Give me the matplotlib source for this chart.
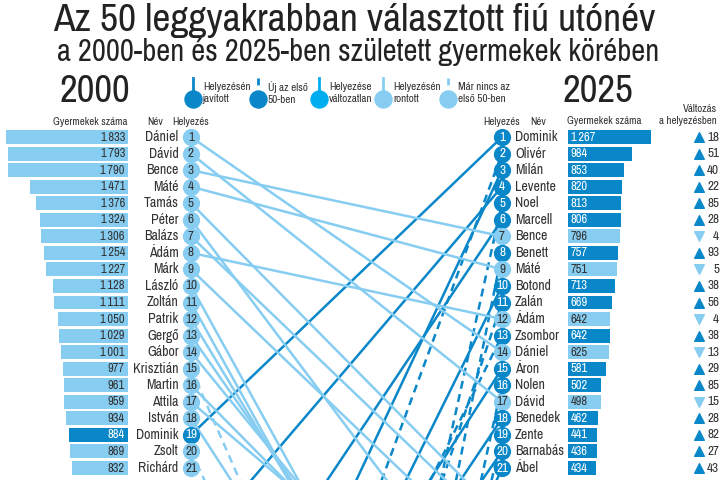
"""
Az 50 leggyakrabban választott fiú utónév, 2000 vs 2025 (slope chart, top 21 rows).
"""
import matplotlib

matplotlib.use("Agg")
import matplotlib.pyplot as plt
from matplotlib import font_manager

# --- data -------------------------------------------------------------------
names_2000 = ["Dániel", "Dávid", "Bence", "Máté", "Tamás", "Péter", "Balázs",
              "Ádám", "Márk", "László", "Zoltán", "Patrik", "Gergő", "Gábor",
              "Krisztián", "Martin", "Attila", "István", "Dominik", "Zsolt",
              "Richárd"]
counts_2000 = [1833, 1793, 1790, 1471, 1376, 1324, 1306, 1254, 1227, 1128,
               1111, 1050, 1029, 1001, 977, 961, 959, 934, 884, 869, 832]
# rank of the 2000 names in 2025 (>50 = no longer in the top 50)
rank25_of_2000 = [14, 17, 7, 9, 24, 31, 25, 12, 27, 44, 45, 43, 40, 37,
                  58, 35, 33, 47, 1, 60, 62]

names_2025 = ["Dominik", "Olivér", "Milán", "Levente", "Noel", "Marcell",
              "Bence", "Benett", "Máté", "Botond", "Zalán", "Ádám", "Zsombor",
              "Dániel", "Áron", "Nolen", "Dávid", "Benedek", "Zente",
              "Barnabás", "Ábel"]
counts_2025 = [1267, 984, 853, 820, 813, 806, 796, 757, 751, 713, 669, 642,
               642, 625, 581, 502, 498, 462, 441, 436, 434]
change_2025 = [18, 51, 40, 22, 85, 28, -4, 93, -5, 38, 56, -4, 38, -13, 29,
               85, -15, 28, 82, 27, 43]

legend_labels = ["Helyezésén\njavított", "Új az első\n50-ben",
                 "Helyezése\nváltozatlan", "Helyezésén\nrontott",
                 "Már nincs az\nelső 50-ben"]

DARK = "#0a87c9"
CYAN = "#00aeef"
LIGHT = "#86cdf1"
TXT = "#333333"

# --- fonts: a regular-weight condensed face if one is installed --------------
wd = font_manager.weight_dict


def wnum(w):
    return w if isinstance(w, int) else wd.get(w, 400)


cands = [f for f in font_manager.fontManager.ttflist
         if f.style == "normal" and ("Condensed" in f.name or "Narrow" in f.name
                                     or f.stretch in ("condensed", "semi-condensed", 75, 87))]
cands.sort(key=lambda f: (abs(wnum(f.weight) - 400), f.name))
if cands:
    best = cands[0]
    plt.rcParams["font.family"] = [best.name, "Liberation Sans", "DejaVu Sans"]
    plt.rcParams["font.weight"] = wnum(best.weight)
    plt.rcParams["font.stretch"] = best.stretch
else:
    plt.rcParams["font.family"] = ["Liberation Sans", "DejaVu Sans"]

W, H = 720, 480
fig = plt.figure(figsize=(W / 100, H / 100), dpi=100)


def box(x0, x1, y0, y1):
    # pixel box (origin top-left) -> figure fraction rect
    return [x0 / W, 1 - y1 / H, (x1 - x0) / W, (y1 - y0) / H]


def ftext(x, y, s, **kw):
    fig.text(x / W, 1 - y / H, s, **kw)


def fmt(v):
    return f"{v:,}".replace(",", "\u2009")


TOP, BOT, ROW1, ROW = 128, 480, 137, 16.55
ylim = (1 + (BOT - ROW1) / ROW, 1 - (ROW1 - TOP) / ROW)
XL, XR = 191, 502  # pixel x of the two rank columns

r2000 = list(range(1, len(names_2000) + 1))
r2025 = list(range(1, len(names_2025) + 1))
prev_2025 = [r + c for r, c in zip(r2025, change_2025)]

# --- titles -------------------------------------------------------------------
ftext(354, 21, "Az 50 leggyakrabban választott fiú utónév", ha="center",
      va="center", fontsize=28.5, color="#222222")
ftext(358, 52, "a 2000-ben és 2025-ben született gyermekek körében",
      ha="center", va="center", fontsize=22, color="#222222")
ftext(95, 92, "2000", ha="center", va="center", fontsize=28,
      fontweight="bold", color="#222222")
ftext(598, 92, "2025", ha="center", va="center", fontsize=28,
      fontweight="bold", color="#222222")

# --- legend -------------------------------------------------------------------
axg = fig.add_axes(box(180, 520, 74, 112))
axg.set_xlim(180, 520)
axg.set_ylim(112, 74)
axg.axis("off")
leg_x = [193, 258, 319, 383, 448]
leg_col = [DARK, DARK, CYAN, LIGHT, LIGHT]
leg_dash = [False, True, False, False, True]
for lx, col, dsh, lab in zip(leg_x, leg_col, leg_dash, legend_labels):
    if dsh:
        axg.plot([lx, lx], [78, 93], color=col, lw=2, dashes=(2.5, 2))
    else:
        axg.plot([lx, lx], [78, 93], color=col, lw=2)
    axg.scatter([lx], [99], s=150, color=col, zorder=3)
    axg.text(lx + 10, 93, lab, ha="left", va="center", fontsize=8,
             color=TXT, linespacing=1.25)

# --- middle: slope lines ------------------------------------------------------
ax = fig.add_axes(box(140, 560, TOP, BOT))
ax.set_xlim((140 - XL) / (XR - XL), (560 - XL) / (XR - XL))
ax.set_ylim(ylim)
ax.axis("off")

LW = 1.8
dash = (3.2, 2.2)
for r, p, c in zip(r2025, prev_2025, change_2025):
    col = DARK if c > 0 else (CYAN if c == 0 else LIGHT)
    if p > 50:
        ax.plot([0, 1], [p, r], color=col, lw=LW, dashes=dash)
    else:
        ax.plot([0, 1], [p, r], color=col, lw=LW)
for r, q in zip(r2000, rank25_of_2000):
    if q <= len(names_2025):
        continue  # already drawn from the 2025 side
    if q > 50:
        ax.plot([0, 1], [r, q], color=LIGHT, lw=LW, dashes=dash)
    else:
        ax.plot([0, 1], [r, q], color=LIGHT if q > r else DARK, lw=LW)

# circles + ranks + names
for r, q, name in zip(r2000, rank25_of_2000, names_2000):
    col = DARK if q < r else LIGHT
    ax.scatter([0], [r], s=130, color=col, zorder=4, clip_on=False)
    ax.text(0, r, str(r), ha="center", va="center", fontsize=9.5, zorder=5,
            color="white" if col == DARK else TXT)
    ax.text(-0.04, r, name, ha="right", va="center", fontsize=10, color=TXT)
for r, c, name in zip(r2025, change_2025, names_2025):
    col = DARK if c > 0 else LIGHT
    ax.scatter([1], [r], s=130, color=col, zorder=4, clip_on=False)
    ax.text(1, r, str(r), ha="center", va="center", fontsize=9.5, zorder=5,
            color="white" if col == DARK else TXT)
    ax.text(1.042, r, name, ha="left", va="center", fontsize=10, color=TXT)

# --- left bars ------------------------------------------------------------------
axl = fig.add_axes(box(0, 128, TOP, BOT))
col_l = [DARK if q < r else LIGHT for r, q in zip(r2000, rank25_of_2000)]
axl.barh(r2000, counts_2000, height=0.84, color=col_l)
axl.set_xlim(1916, 0)
axl.set_ylim(ylim)
axl.axis("off")
for r, v, col in zip(r2000, counts_2000, col_l):
    axl.text(45, r, fmt(v), ha="right", va="center", fontsize=9,
             color="white" if col == DARK else TXT)

# --- right bars -----------------------------------------------------------------
axr = fig.add_axes(box(568, 720, TOP, BOT))
col_r = [DARK if c > 0 else LIGHT for c in change_2025]
axr.barh(r2025, counts_2025, height=0.84, color=col_r)
axr.set_xlim(0, 2320)
axr.set_ylim(ylim)
axr.axis("off")
tr = axr.get_yaxis_transform()
for r, v, c, col in zip(r2025, counts_2025, change_2025, col_r):
    axr.text(45, r, fmt(v), ha="left", va="center", fontsize=9,
             color="white" if col == DARK else TXT)
    axr.scatter([0.86], [r], marker="^" if c > 0 else "v", s=48,
                color=col, transform=tr, clip_on=False)
    axr.text(0.995, r, str(abs(c)), ha="right", va="center", fontsize=9.5,
             color=TXT, transform=tr)

# --- column headers -------------------------------------------------------------
hk = dict(va="center", fontsize=7.8, color=TXT)
ftext(127, 122, "Gyermekek száma", ha="right", **hk)
ftext(163, 122, "Név", ha="right", **hk)
ftext(172, 122, "Helyezés", ha="left", **hk)
ftext(520, 122, "Helyezés", ha="right", **hk)
ftext(530, 122, "Név", ha="left", **hk)
ftext(567, 121, "Gyermekek száma", ha="left", **hk)
ftext(717, 115, "Változás\na helyezésben", ha="right", linespacing=1.15, **hk)

fig.savefig("out.png", dpi=100)
